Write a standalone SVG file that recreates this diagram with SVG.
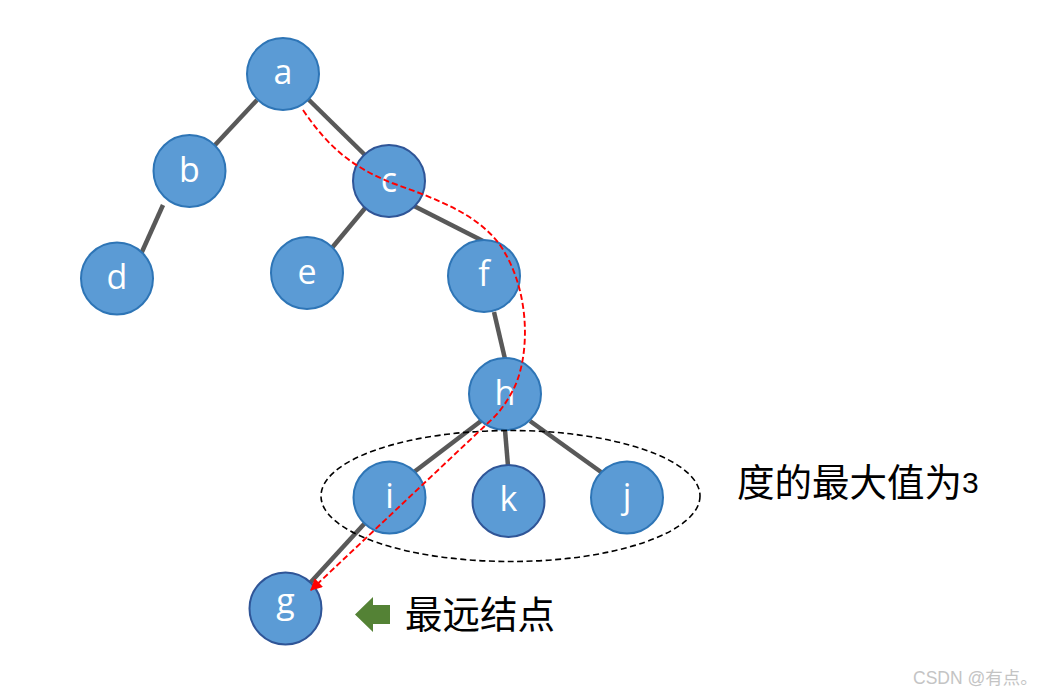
<svg xmlns="http://www.w3.org/2000/svg" width="1049" height="696" viewBox="0 0 1049 696">
<style>
.node circle{fill:#5B9BD5;stroke:#2E75B6;stroke-width:2}
.node.dk circle{stroke:#2F5597}
.node text{fill:#fff;font-family:"Open Sans","Liberation Sans",sans-serif;font-size:34px;text-anchor:middle}
.edge{stroke:#595959;stroke-width:4.5;fill:none}
.cjk{font-family:"Noto Sans CJK SC","Noto Sans",sans-serif;font-size:37.5px;fill:#000}
</style>
<defs>
<marker id="redArrow" viewBox="0 0 10 10" refX="9" refY="5" markerWidth="12" markerHeight="12" markerUnits="userSpaceOnUse" orient="auto">
<path d="M0,0 L10,5 L0,10 z" fill="#FF0000"/>
</marker>
</defs>
<rect width="1049" height="696" fill="#fff"/>
<g id="connectors">
<line class="edge" x1="257" y1="100" x2="215" y2="145"/>
<line class="edge" x1="308" y1="99" x2="366" y2="156"/>
<line class="edge" x1="163" y1="205" x2="141" y2="254"/>
<line class="edge" x1="366" y1="207" x2="331" y2="249"/>
<line class="edge" x1="414" y1="206" x2="483" y2="241"/>
<line class="edge" x1="494" y1="312" x2="505" y2="359"/>
<line class="edge" x1="481" y1="421" x2="414" y2="472"/>
<line class="edge" x1="505" y1="430" x2="508" y2="466"/>
<line class="edge" x1="530" y1="421" x2="601" y2="472"/>
<line class="edge" x1="365" y1="523" x2="310" y2="583"/>
</g>
<g id="nodes">
<g id="node-a" class="node"><circle cx="283" cy="74" r="36"/><text x="283" y="84">a</text></g>
<g id="node-b" class="node"><circle cx="189.5" cy="171" r="36"/><text x="189.5" y="182">b</text></g>
<g id="node-d" class="node"><circle cx="117" cy="278.5" r="36"/><text x="117" y="289">d</text></g>
<g id="node-c" class="node dk"><circle cx="389" cy="181" r="36"/><text x="389" y="192">c</text></g>
<g id="node-e" class="node"><circle cx="307" cy="273" r="36"/><text x="307" y="284">e</text></g>
<g id="node-f" class="node"><circle cx="484" cy="276" r="36"/><text x="484" y="286">f</text></g>
<g id="node-h" class="node"><circle cx="505" cy="394" r="36"/><text x="505" y="405">h</text></g>
<g id="node-i" class="node"><circle cx="389.5" cy="497.5" r="36"/><text x="389.5" y="508">i</text></g>
<g id="node-k" class="node dk"><circle cx="508.5" cy="501" r="36"/><text x="508.5" y="511">k</text></g>
<g id="node-j" class="node"><circle cx="627" cy="497.5" r="36"/><text x="627" y="508">j</text></g>
<g id="node-g" class="node dk"><circle cx="285.5" cy="608.5" r="36"/><text x="285.5" y="613">g</text></g>
</g>
<g id="group-ellipse">
<ellipse cx="510.5" cy="496" rx="189.5" ry="65.5" fill="none" stroke="#000" stroke-width="1.6" stroke-dasharray="6,3.5"/>
</g>
<g id="path-red">
<path d="M303,110 C330,150 355,168 392,183 C440,200 478,215 500,245 C532,292 530,360 512,392 C505,405 498,414 489,422 L311,590" fill="none" stroke="#FF0000" stroke-width="1.9" stroke-dasharray="6,3" marker-end="url(#redArrow)"/>
</g>
<g id="label-max">
<text class="cjk" x="737" y="496">度的最大值为<tspan font-family="Liberation Sans, sans-serif" font-size="30" y="493">3</tspan></text>
</g>
<g id="label-far">
<path d="M355,614.5 L373,597 L373,605 L390,605 L390,624 L373,624 L373,632 Z" fill="#548235"/>
<text class="cjk" x="405" y="628">最远结点</text>
</g>
<text x="913" y="684" font-family="Liberation Sans, Noto Sans CJK SC, sans-serif" font-size="17.5" fill="#c4c4c4">CSDN @有点。</text>
</svg>
